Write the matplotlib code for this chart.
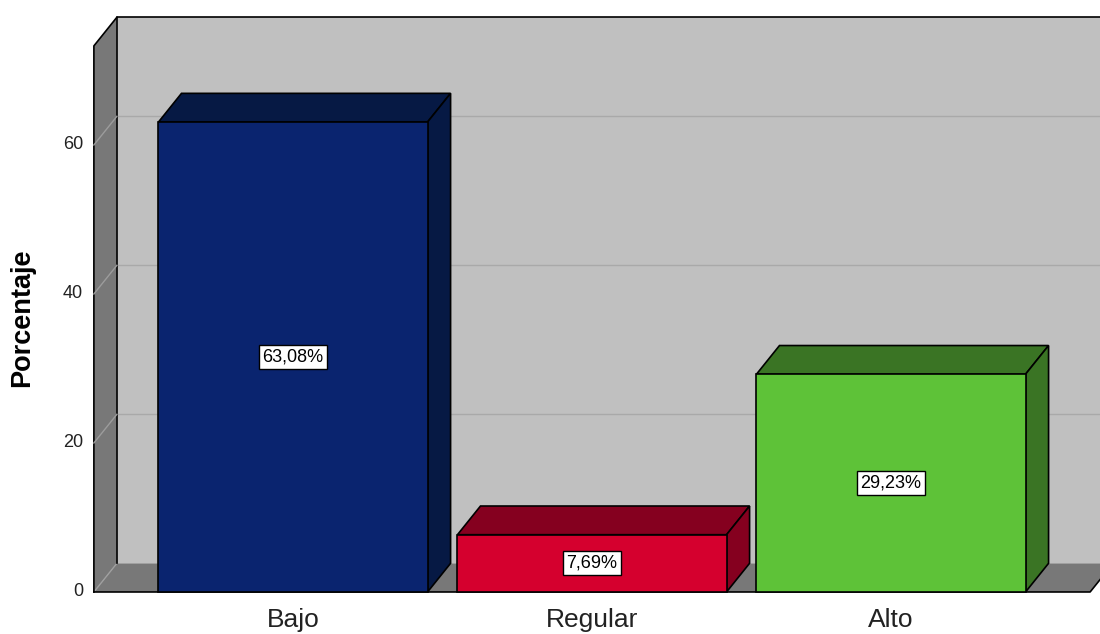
import matplotlib.pyplot as plt
from matplotlib.patches import Polygon, Rectangle

# Datos del gráfico
categorias = ['Bajo', 'Regular', 'Alto']
porcentajes = [63.08, 7.69, 29.23]
etiquetas = ['63,08%', '7,69%', '29,23%']
marcas_y = [0, 20, 40, 60]

colores_frente = ['#0a246f', '#d5002e', '#5ec238']
colores_sombra = ['#061944', '#85001f', '#3a7424']

plt.rcParams['font.family'] = ['Liberation Sans', 'DejaVu Sans']

fig = plt.figure(figsize=(11, 6.34), dpi=100)
ax = fig.add_axes([0, 0, 1, 1])
ax.set_xlim(-0.980, 2.699)
ax.set_ylim(-5.64, 79.46)
ax.axis('off')

# profundidad del efecto 3D (en unidades de datos)
dx, dy = 0.077, 3.85
ancho = 0.9
x0 = -0.666          # borde frontal de la pared izquierda
x_suelo = 2.666      # borde frontal derecho del suelo
x_fin = 2.8
techo = 73.3         # altura de la pared en el plano frontal

# pared del fondo
ax.add_patch(Rectangle((x0 + dx, dy), x_fin - x0, techo, facecolor='#c0c0c0',
                       edgecolor='none', zorder=1))

# pared izquierda y suelo
ax.add_patch(Polygon([(x0, 0), (x0 + dx, dy), (x0 + dx, dy + techo), (x0, techo)],
                     closed=True, facecolor='#787878', edgecolor='none', zorder=2))
ax.add_patch(Polygon([(x0, 0), (x0 + dx, dy), (x_suelo + dx, dy), (x_suelo, 0)],
                     closed=True, facecolor='#787878', edgecolor='none', zorder=2))
ax.plot([x0, x0 + dx], [0, dy], color='#a0a0a0', lw=1, zorder=3)
ax.plot([x0 + dx, x0 + dx, x_fin], [dy, dy + techo, dy + techo],
        color='black', lw=1.2, zorder=3)
ax.plot([x0, x0, x0 + dx], [0, techo, dy + techo], color='black', lw=1.2, zorder=3)
ax.plot([x0, x_suelo, x_suelo + dx], [0, 0, dy], color='black', lw=1.2, zorder=3)

# líneas de cuadrícula y etiquetas del eje
for v in marcas_y:
    if v > 0:
        ax.plot([x0 + dx, x_fin], [v + dy, v + dy], color='#a9a9a9', lw=1, zorder=2)
        ax.plot([x0, x0 + dx], [v, v + dy], color='#9c9c9c', lw=1, zorder=3)
    ax.text(x0 - 0.036, v, str(v), ha='right', va='center', fontsize=13,
            color='#222222')

# barras
for i, (v, cf, cs, et) in enumerate(zip(porcentajes, colores_frente,
                                         colores_sombra, etiquetas)):
    izq, der = i - ancho / 2, i + ancho / 2
    ax.add_patch(Polygon([(izq, v), (izq + dx, v + dy), (der + dx, v + dy), (der, v)],
                         closed=True, facecolor=cs, edgecolor='black', lw=1.2, zorder=4))
    ax.add_patch(Polygon([(der, 0), (der + dx, dy), (der + dx, v + dy), (der, v)],
                         closed=True, facecolor=cs, edgecolor='black', lw=1.2, zorder=4))
    ax.add_patch(Rectangle((izq, 0), ancho, v, facecolor=cf, edgecolor='black',
                           lw=1.2, zorder=5))
    ax.text(i, v / 2, et, ha='center', va='center', fontsize=13, zorder=6,
            bbox=dict(boxstyle='square,pad=0.2', facecolor='white',
                      edgecolor='black', lw=1))
    ax.text(i, -3.8, categorias[i], ha='center', va='center', fontsize=19,
            color='#222222')

ax.text(-0.905, 36.8, 'Porcentaje', rotation=90, ha='center', va='center',
        fontsize=19.5, fontweight='bold')

fig.savefig('out.png', dpi=100)
